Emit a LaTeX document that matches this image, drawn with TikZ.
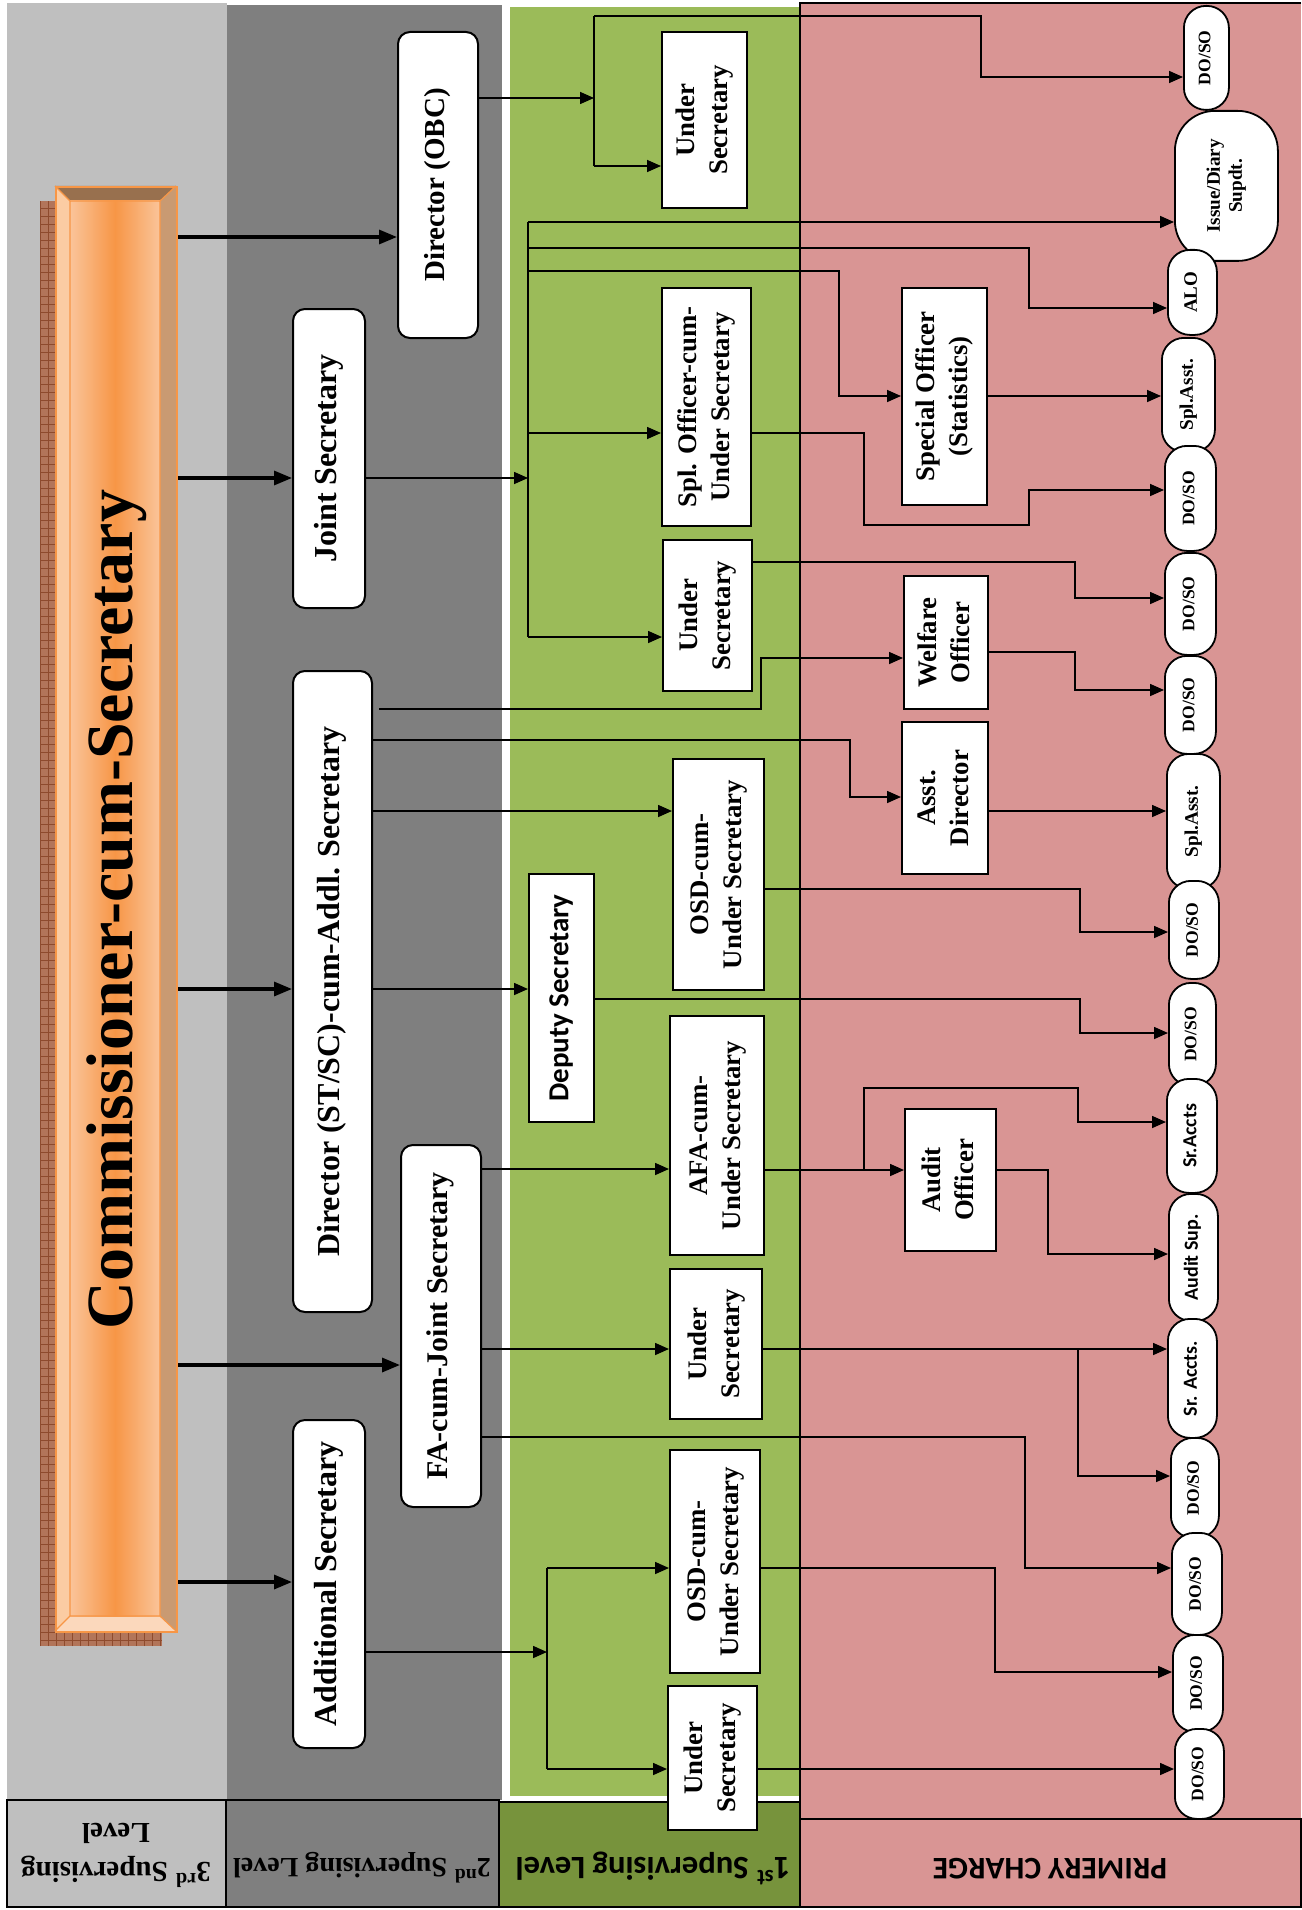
\documentclass[tikz,border=0pt]{standalone}
\usepackage{fontspec}
\setmainfont{Liberation Serif}
\newfontfamily\calibrifont{Carlito}
\usepackage{graphicx}
\usepackage{tikz}
\usetikzlibrary{arrows.meta,positioning,calc}
\definecolor{thirdgray}{HTML}{BFBFBF}
\definecolor{secondgray}{HTML}{7F7F7F}
\definecolor{firstgreen}{HTML}{9BBB59}
\definecolor{legendgreen}{HTML}{77933C}
\definecolor{chargepink}{HTML}{D99594}
\definecolor{barorange}{HTML}{F79646}
\definecolor{barlight}{HTML}{FAC49A}
\definecolor{bevtop}{HTML}{98704E}
\definecolor{bevright}{HTML}{C99A72}
\definecolor{bevleft}{HTML}{FBCCA3}
\definecolor{bevbottom}{HTML}{FBD8BC}
\definecolor{shadowbrown}{HTML}{B2755A}
\definecolor{shadowline}{HTML}{8E4B2E}

\newcommand{\vtext}[1]{\rotatebox{90}{\begin{tabular}{@{}c@{}}#1\end{tabular}}}
\newcommand{\utext}[1]{\rotatebox{180}{\begin{tabular}{@{}c@{}}#1\end{tabular}}}

\begin{document}
\begin{tikzpicture}[
    x=0.5pt, y=-0.5pt,
    >={Triangle[length=7pt,width=6pt]},
    sz/.style 2 args={minimum width=#1*0.5pt, minimum height=#2*0.5pt},
    supbox/.style={draw=black, line width=1pt, fill=white, rounded corners=6pt,
      inner sep=0pt, anchor=north west, font=\fontsize{16}{18}\selectfont\bfseries},
    offbox/.style={draw=black, line width=1pt, fill=white, inner sep=0pt,
      anchor=north west, font=\fontsize{13.4}{16.5}\selectfont\bfseries},
    pcbox/.style={draw=black, line width=0.9pt, fill=white, rounded corners=11pt,
      inner sep=0pt, anchor=north west, font=\fontsize{8.8}{10}\selectfont\bfseries},
    pcsans/.style={font=\calibrifont\fontsize{10}{11}\selectfont\bfseries},
    link/.style={line width=0.8pt},
    linkarr/.style={->, line width=0.8pt},
    bigarr/.style={-{Triangle[length=9pt,width=7pt]}, line width=1.6pt},
    legcell/.style={draw=black, line width=1pt},
  ]

  \useasboundingbox (0,0) rectangle (1301,1910);
  \fill[white] (0,0) rectangle (1301,1910);

  % =================== BANDS ===================
  \fill[thirdgray] (7,3) rectangle (227,1800);
  \fill[secondgray] (227,5) rectangle (502,1800);
  \fill[firstgreen] (510,7) rectangle (800,1796);
  \fill[chargepink] (800,3) rectangle (1301,1819);
  \draw[line width=1pt] (1301,3) -- (800,3) -- (800,1819);

  % =================== LEGEND ROW ===================
  \draw[legcell, fill=thirdgray] (7,1800) rectangle (226,1907);
  \draw[legcell, fill=secondgray] (226,1800) rectangle (499,1907);
  \draw[legcell, fill=legendgreen] (499,1802) rectangle (800,1907);
  \draw[legcell, fill=chargepink] (800,1819) rectangle (1301,1907);

  \node[font=\fontsize{14.5}{19.5}\selectfont\bfseries] (lthird) at (116,1851)
    {\utext{3\textsuperscript{rd} Supervising\\Level}};
  \node[font=\fontsize{14}{16}\selectfont\bfseries] (lsecond) at (362,1866)
    {\utext{2\textsuperscript{nd} Supervising Level}};
  \node[font=\calibrifont\fontsize{16.3}{18}\selectfont\bfseries] (lfirst) at (653,1866)
    {\utext{1\textsuperscript{st} Supervising Level}};
  \node[font=\calibrifont\fontsize{15.7}{18}\selectfont\bfseries] (lcharge) at (1050,1866)
    {\utext{PRIMERY CHARGE}};

  % =================== COMMISSIONER BAR ===================
  % Shadow
  \fill[shadowbrown] (40,201) rectangle (162,1646);
  \draw[shadowline, line width=0.3pt, step=4pt] (40,1646) grid (162,201);
  % Bevels
  \fill[bevtop] (55,186) -- (176,186) -- (160,201) -- (70,201) -- cycle;
  \fill[bevright] (176,186) -- (176,1631) -- (160,1616) -- (160,201) -- cycle;
  \fill[bevleft] (55,186) -- (70,201) -- (70,1616) -- (55,1631) -- cycle;
  \fill[bevbottom] (55,1631) -- (70,1616) -- (160,1616) -- (176,1631) -- cycle;
  \shade[left color=barlight, right color=barlight, middle color=barorange] (70,201) rectangle (160,1616);
  \draw[barorange, line width=0.6pt] (70,201) rectangle (160,1616)
    (55,186) -- (70,201) (176,186) -- (160,201) (55,1631) -- (70,1616) (176,1631) -- (160,1616);
  \node[draw=barorange, line width=1.2pt, inner sep=0pt, anchor=north west, sz={121}{1445},
        font=\fontsize{33}{36}\selectfont\bfseries] (cs) at (55,186)
    {\rotatebox{90}{Commissioner-cum-Secretary}};

  % =================== 2ND SUPERVISING LEVEL ===================
  \node[supbox, sz={80}{306}, font=\fontsize{14.5}{17}\selectfont\bfseries] (dobc) at (397,31) {\vtext{Director (OBC)}};
  \node[supbox, sz={72}{299}] (jsec) at (292,308) {\vtext{Joint Secretary}};
  \node[supbox, sz={79}{641}] (dstsc) at (292,670) {\vtext{Director (ST/SC)-cum-Addl. Secretary}};
  \node[supbox, sz={80}{362}, font=\fontsize{15}{17}\selectfont\bfseries] (fajs) at (400,1144) {\vtext{FA-cum-Joint Secretary}};
  \node[supbox, sz={72}{328}] (asec) at (292,1419) {\vtext{Additional Secretary}};

  \foreach \dst/\yy in {dobc/237, jsec/478, dstsc/989, fajs/1365, asec/1582}
    \draw[bigarr] (cs.east |- 0,\yy) -- (\dst.west |- 0,\yy);

  % =================== 1ST SUPERVISING LEVEL ===================
  \node[offbox, sz={85}{176}] (us1) at (661,31) {\vtext{Under\\Secretary}};
  \node[offbox, sz={89}{238}] (splus) at (661,287) {\vtext{Spl. Officer-cum-\\Under Secretary}};
  \node[offbox, sz={89}{151}] (us2) at (662,539) {\vtext{Under\\Secretary}};
  \node[offbox, sz={91}{231}] (osd1) at (672,758) {\vtext{OSD-cum-\\Under Secretary}};
  \node[offbox, sz={65}{248}, font=\calibrifont\fontsize{14.5}{17}\selectfont\bfseries] (dsec) at (528,873) {\vtext{Deputy Secretary}};
  \node[offbox, sz={94}{239}] (afa) at (669,1015) {\vtext{AFA-cum-\\Under Secretary}};
  \node[offbox, sz={92}{150}] (us3) at (669,1268) {\vtext{Under\\Secretary}};
  \node[offbox, sz={90}{223}] (osd2) at (669,1449) {\vtext{OSD-cum-\\Under Secretary}};
  \node[offbox, sz={89}{144}] (us4) at (667,1685) {\vtext{Under\\Secretary}};

  % Officers in the primary charge band
  \node[offbox, sz={85}{217}] (spof) at (901,287) {\vtext{Special Officer\\(Statistics)}};
  \node[offbox, sz={84}{133}] (welf) at (903,575) {\vtext{Welfare\\Officer}};
  \node[offbox, sz={86}{152}] (asdir) at (901,721) {\vtext{Asst.\\Director}};
  \node[offbox, sz={91}{142}] (audo) at (904,1108) {\vtext{Audit\\Officer}};

  % =================== PRIMARY CHARGE ===================
  \node[pcbox, sz={45}{104}] (p1) at (1183,5) {\vtext{DO/SO}};
  \node[pcbox, sz={103}{150}, rounded corners=20pt, font=\fontsize{9.6}{11}\selectfont\bfseries] (p2) at (1174,110) {\vtext{Issue/Diary\\Supdt.}};
  \node[pcbox, sz={49}{85}, font=\fontsize{9.5}{11}\selectfont\bfseries] (p3) at (1167,249) {\vtext{ALO}};
  \node[pcbox, sz={53}{114}, font=\fontsize{9.6}{11}\selectfont\bfseries] (p4) at (1161,337) {\vtext{Spl.Asst.}};
  \node[pcbox, sz={51}{105}] (p5) at (1164,445) {\vtext{DO/SO}};
  \node[pcbox, sz={51}{102}] (p6) at (1164,552) {\vtext{DO/SO}};
  \node[pcbox, sz={51}{98}] (p7) at (1164,655) {\vtext{DO/SO}};
  \node[pcbox, sz={53}{135}, font=\fontsize{9.6}{11}\selectfont\bfseries] (p8) at (1166,753) {\vtext{Spl.Asst.}};
  \node[pcbox, sz={50}{98}] (p9) at (1168,880) {\vtext{DO/SO}};
  \node[pcbox, sz={47}{103}] (p10) at (1168,982) {\vtext{DO/SO}};
  \node[pcbox, pcsans, sz={50}{114}] (p11) at (1166,1078) {\vtext{Sr.Accts}};
  \node[pcbox, pcsans, sz={49}{127}] (p12) at (1168,1193) {\vtext{Audit Sup.}};
  \node[pcbox, pcsans, sz={49}{119}] (p13) at (1167,1318) {\vtext{Sr. Accts.}};
  \node[pcbox, sz={48}{100}] (p14) at (1170,1437) {\vtext{DO/SO}};
  \node[pcbox, sz={50}{102}] (p15) at (1171,1532) {\vtext{DO/SO}};
  \node[pcbox, sz={50}{97}] (p16) at (1172,1634) {\vtext{DO/SO}};
  \node[pcbox, sz={49}{90}] (p17) at (1174,1728) {\vtext{DO/SO}};

  % =================== CONNECTORS ===================
  % Director (OBC)
  \coordinate (obctop) at (594,16);
  \coordinate (obcbot) at (594,166);
  \draw[linkarr] (dobc.east |- 0,98) -- (obcbot |- 0,98);
  \draw[link] (obctop) -- (obcbot);
  \draw[linkarr] (obcbot) -- (us1.west |- obcbot);
  \draw[linkarr] (obctop) -- (981,16) -- (981,77) -- (p1.west |- 0,77);

  % Joint Secretary
  \coordinate (jstop) at (528,222);
  \coordinate (jsbot) at (528,637);
  \draw[linkarr] (jsec.east |- 0,478) -- (jstop |- 0,478);
  \draw[link] (jstop) -- (jsbot);
  \draw[linkarr] (jstop) -- (p2.west |- jstop);
  \draw[linkarr] (jstop |- 0,248) -- (1029,248) -- (1029,308) -- (p3.west |- 0,308);
  \draw[linkarr] (jstop |- 0,271) -- (839,271) -- (839,396) -- (spof.west |- 0,396);
  \draw[linkarr] (jstop |- 0,433) -- (splus.west |- 0,433);
  \draw[linkarr] (jsbot) -- (us2.west |- jsbot);
  \draw[linkarr] (splus.east |- 0,433) -- (864,433) -- (864,525) -- (1029,525) -- (1029,490) -- (p5.west |- 0,490);
  \draw[linkarr] (spof.east |- 0,396) -- (p4.west |- 0,396);
  \draw[linkarr] (us2.east |- 0,562) -- (1075,562) -- (1075,598) -- (p6.west |- 0,598);
  \draw[linkarr] (welf.east |- 0,652) -- (1075,652) -- (1075,690) -- (p7.west |- 0,690);

  % Director (ST/SC)-cum-Addl. Secretary
  \draw[linkarr] ([xshift=3pt]dstsc.east |- 0,709) -- (761,709) -- (761,658) -- (welf.west |- 0,658);
  \draw[linkarr] (dstsc.east |- 0,740) -- (850,740) -- (850,797) -- (asdir.west |- 0,797);
  \draw[linkarr] (dstsc.east |- 0,811) -- (osd1.west |- 0,811);
  \draw[linkarr] (dstsc.east |- 0,989) -- (dsec.west |- 0,989);
  \draw[linkarr] (asdir.east |- 0,811) -- (p8.west |- 0,811);
  \draw[linkarr] (osd1.east |- 0,889) -- (1080,889) -- (1080,932) -- (p9.west |- 0,932);
  \draw[linkarr] (dsec.east |- 0,999) -- (1080,999) -- (1080,1033) -- (p10.west |- 0,1033);

  % FA-cum-Joint Secretary
  \draw[linkarr] (fajs.east |- 0,1169) -- (afa.west |- 0,1169);
  \draw[linkarr] (fajs.east |- 0,1349) -- (us3.west |- 0,1349);
  \draw[linkarr] (fajs.east |- 0,1437) -- (1025,1437) -- (1025,1568) -- (p15.west |- 0,1568);
  \draw[linkarr] (afa.east |- 0,1170) -- (audo.west |- 0,1170);
  \draw[linkarr] (864,1170) -- (864,1088) -- (1078,1088) -- (1078,1122) -- (p11.west |- 0,1122);
  \draw[linkarr] (audo.east |- 0,1170) -- (1048,1170) -- (1048,1254) -- (p12.west |- 0,1254);
  \draw[linkarr] (us3.east |- 0,1349) -- (p13.west |- 0,1349);
  \draw[linkarr] (1078,1349) -- (1078,1476) -- (p14.west |- 0,1476);

  % Additional Secretary
  \coordinate (astop) at (547,1568);
  \coordinate (asbot) at (547,1769);
  \draw[linkarr] (asec.east |- 0,1652) -- (astop |- 0,1652);
  \draw[link] (astop) -- (asbot);
  \draw[linkarr] (astop) -- (osd2.west |- astop);
  \draw[linkarr] (asbot) -- (us4.west |- asbot);
  \draw[linkarr] (osd2.east |- 0,1568) -- (995,1568) -- (995,1672) -- (p16.west |- 0,1672);
  \draw[linkarr] (us4.east |- 0,1769) -- (p17.west |- 0,1769);

\end{tikzpicture}
\end{document}
